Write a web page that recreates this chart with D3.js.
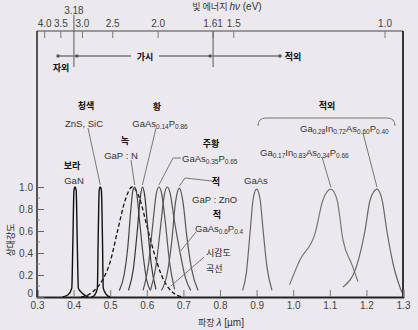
<!DOCTYPE html>
<html>
<head>
<meta charset="utf-8">
<script src="https://cdn.jsdelivr.net/npm/d3@7"></script>
<style>
  html, body { margin: 0; padding: 0; background: #ebe8ee; }
  svg { display: block; }
  .lat { font-family: "Liberation Sans", Arial, sans-serif; }
  .kr { font-family: "Noto Sans CJK KR", sans-serif; }
</style>
</head>
<body>
<div id="chart"></div>
<script>
// Wavelength axis (bottom) and intensity axis (left)
const wavelengthTicks = [0.3, 0.4, 0.5, 0.6, 0.7, 0.8, 0.9, 1.0, 1.1, 1.2, 1.3];
const intensityTicks = [0, 0.2, 0.4, 0.6, 0.8, 1.0];
const intensityTickLabels = ["0", "0.2", "0.4", "0.6", "0.8", "1.0"];
// Photon energy axis (top), eV
const energyTicks = [4.0, 3.5, 3.0, 2.5, 2.0, 1.61, 1.5, 1.0];
const energyTickLabels = ["4.0", "3.5", "3.0", "2.5", "2.0", "1.61", "1.5", "1.0"];
const boundaryEnergies = [3.18, 1.61];
const regionNames = ["자외", "가시", "적외"];

// Emission spectra: [wavelength µm, relative intensity]
const ganSpectrum = [[0.37,0],[0.385,0.02],[0.395,0.08],[0.398,0.5],[0.401,0.97],[0.404,1.0],[0.407,0.97],[0.41,0.5],[0.413,0.08],[0.425,0.03],[0.44,0]];
const znsSicSpectrum = [[0.449,0],[0.458,0.02],[0.465,0.08],[0.467,0.5],[0.47,0.97],[0.473,1.0],[0.476,0.97],[0.479,0.5],[0.481,0.08],[0.49,0.02],[0.5,0]];
const gapNSpectrum = [[0.525,0.06],[0.538,0.2],[0.548,0.45],[0.556,0.78],[0.562,0.97],[0.567,1.0],[0.572,0.95],[0.58,0.7],[0.59,0.38],[0.6,0.15],[0.61,0.06]];
const gaAs14Spectrum = [[0.55,0.06],[0.563,0.25],[0.574,0.6],[0.582,0.9],[0.588,1.0],[0.594,0.93],[0.602,0.65],[0.612,0.3],[0.625,0.07]];
const gaAs35Spectrum = [[0.59,0.06],[0.604,0.28],[0.616,0.65],[0.626,0.94],[0.633,1.0],[0.64,0.95],[0.65,0.7],[0.662,0.32],[0.676,0.07]];
const gaAs60Spectrum = [[0.61,0.06],[0.625,0.28],[0.638,0.65],[0.648,0.93],[0.656,1.0],[0.664,0.94],[0.675,0.7],[0.69,0.42],[0.705,0.18],[0.72,0.06]];
const gapZnoSpectrum = [[0.64,0.06],[0.655,0.2],[0.668,0.5],[0.678,0.85],[0.689,0.99],[0.699,0.86],[0.709,0.56],[0.722,0.26],[0.74,0.06]];
const gaAsSpectrum = [[0.862,0.06],[0.872,0.22],[0.882,0.58],[0.891,0.9],[0.9,0.98],[0.909,0.9],[0.918,0.6],[0.928,0.28],[0.942,0.06]];
const quat1Spectrum = [[0.99,0.11],[1.019,0.34],[1.06,0.58],[1.081,0.88],[1.103,0.98],[1.12,0.88],[1.136,0.52],[1.161,0.29],[1.177,0.14]];
const quat2Spectrum = [[1.136,0.09],[1.174,0.29],[1.196,0.6],[1.21,0.88],[1.229,0.98],[1.243,0.88],[1.256,0.6],[1.273,0.3],[1.297,0.04]];
// Relative eye sensitivity (luminosity) curve
const eyeSensitivity = [[0.42,0],[0.44,0.02],[0.46,0.07],[0.48,0.16],[0.5,0.32],[0.52,0.6],[0.54,0.87],[0.56,1.0],[0.58,0.9],[0.6,0.65],[0.62,0.4],[0.64,0.2],[0.66,0.08],[0.68,0.02],[0.7,0]];

const W = 418, H = 330;
const svg = d3.select("#chart").append("svg").attr("width", W).attr("height", H);
svg.append("rect").attr("width", W).attr("height", H).attr("fill", "#ebe8ee");

const L = 37, R = 403, T = 31, B = 297;
const x = d3.scaleLinear().domain([0.3, 1.3]).range([L, R]);
const xTop = d3.scaleLinear().domain([0.3, 1.3]).range([L + 4, R + 4]);
const y = d3.scaleLinear().domain([0, 1]).range([B, 187]);
const evToUm = e => 1.24 / e;

const ink = "#333";

// Plot frame
svg.append("line").attr("x1", L).attr("x2", R).attr("y1", T).attr("y2", T).attr("stroke", "#444").attr("stroke-width", 1.2);
svg.append("line").attr("x1", R).attr("x2", R).attr("y1", T).attr("y2", B).attr("stroke", "#222").attr("stroke-width", 1.8);

// Bottom axis
const xAxis = d3.axisBottom(x).tickValues(wavelengthTicks).tickSize(-7).tickPadding(5).tickFormat(d3.format(".1f"));
const gx = svg.append("g").attr("transform", `translate(0,${B})`).call(xAxis);
gx.select(".domain").attr("stroke", "#222").attr("stroke-width", 1.8);
gx.selectAll(".tick line").attr("stroke", "#777");
gx.selectAll("text").attr("class", "lat").attr("font-size", 10).attr("fill", "#444");

// Left axis
const yAxis = d3.axisLeft(y).tickValues(intensityTicks).tickSize(-7).tickPadding(4)
  .tickFormat((d, i) => intensityTickLabels[i]);
const gy = svg.append("g").attr("transform", `translate(${L},0)`).call(yAxis);
gy.select(".domain").attr("stroke", "#222").attr("stroke-width", 1.5).attr("d", `M0,${T}V${B}`);
gy.selectAll(".tick line").attr("stroke", "#666");
gy.selectAll("text").attr("class", "lat").attr("font-size", 10).attr("fill", "#444");
// the zero label sits a little above the baseline so it clears the 0.3 label
gy.selectAll(".tick").filter(d => d === 0).select("text").attr("dy", "-0.05em");
// minor intensity ticks
svg.append("g").selectAll("line").data(d3.range(0.1, 1.0, 0.2)).join("line")
  .attr("x1", L).attr("x2", L + 3).attr("y1", d => y(d)).attr("y2", d => y(d))
  .attr("stroke", "#888");

// Top energy axis
const gTop = svg.append("g");
gTop.selectAll("line").data(energyTicks).join("line")
  .attr("x1", d => xTop(evToUm(d))).attr("x2", d => xTop(evToUm(d)))
  .attr("y1", T).attr("y2", T + 7).attr("stroke", "#777");
gTop.selectAll("text").data(energyTicks).join("text")
  .attr("class", "lat").attr("x", d => xTop(evToUm(d))).attr("y", 27)
  .attr("text-anchor", "middle").attr("font-size", 10).attr("fill", "#444")
  .text((d, i) => energyTickLabels[i]);

// UV / visible / IR boundaries
const [uvEdge, irEdge] = boundaryEnergies.map(e => xTop(evToUm(e)));
svg.append("line").attr("x1", uvEdge).attr("x2", uvEdge).attr("y1", 15).attr("y2", 67).attr("stroke", "#666").attr("stroke-width", 1.1);
svg.append("line").attr("x1", irEdge).attr("x2", irEdge).attr("y1", T).attr("y2", 67).attr("stroke", "#666").attr("stroke-width", 1.1);
svg.append("text").attr("class", "lat").attr("x", uvEdge).attr("y", 14).attr("text-anchor", "middle")
  .attr("font-size", 10).attr("fill", "#444").text(boundaryEnergies[0].toFixed(2));

// Energy axis title
const et = svg.append("text").attr("x", 227).attr("y", 10).attr("text-anchor", "middle").attr("font-size", 9).attr("fill", ink);
et.append("tspan").attr("class", "kr").text("빛 에너지 ");
et.append("tspan").attr("class", "lat").attr("font-style", "italic").attr("font-size", 10).text("hν");
et.append("tspan").attr("class", "lat").attr("font-size", 10).text(" (eV)");

// Spectral region bar
const bandY = 56, bandL = 58, bandR = 280;
svg.append("line").attr("x1", bandL).attr("x2", 131).attr("y1", bandY).attr("y2", bandY).attr("stroke", "#777").attr("stroke-width", 1.5);
svg.append("line").attr("x1", 159).attr("x2", bandR).attr("y1", bandY).attr("y2", bandY).attr("stroke", "#777").attr("stroke-width", 1.5);
svg.append("g").selectAll("circle").data([bandL, uvEdge + 3, irEdge - 3, bandR]).join("circle")
  .attr("cx", d => d).attr("cy", bandY).attr("r", 1.7).attr("fill", "#555");
const krBold = (tx, ty, s, anchor = "middle") => svg.append("text").attr("class", "kr")
  .attr("x", tx).attr("y", ty).attr("text-anchor", anchor).attr("font-size", 9).attr("font-weight", "bold")
  .attr("fill", "#111").text(s);
krBold(61, 71, regionNames[0]);
krBold(145, 60, regionNames[1]);
krBold(293, 60, regionNames[2]);

// Spectra
const line = d3.line().x(d => x(d[0])).y(d => y(d[1])).curve(d3.curveMonotoneX);
const drawCurve = (data, color, width, dash) => svg.append("path").datum(data).attr("d", line)
  .attr("fill", "none").attr("stroke", color).attr("stroke-width", width).attr("stroke-dasharray", dash || null);

drawCurve(eyeSensitivity, "#111", 1.3, "4,2.5");
drawCurve(ganSpectrum, "#111", 1.4);
drawCurve(znsSicSpectrum, "#111", 1.4);
drawCurve(gapNSpectrum, "#444", 1.2);
drawCurve(gaAs14Spectrum, "#333", 1.2);
drawCurve(gaAs35Spectrum, "#555", 1.2);
drawCurve(gaAs60Spectrum, "#555", 1.2);
drawCurve(gapZnoSpectrum, "#555", 1.2);
drawCurve(gaAsSpectrum, "#666", 1.2);
drawCurve(quat1Spectrum, "#777", 1.2);
drawCurve(quat2Spectrum, "#666", 1.2);

// Leader lines
const peakOf = data => data.reduce((a, b) => (b[1] > a[1] ? b : a));
const leader = pts => svg.append("path").attr("d", d3.line()(pts)).attr("fill", "none").attr("stroke", "#777").attr("stroke-width", 1);
const tip = (data, dy = 2) => { const p = peakOf(data); return [x(p[0]), y(p[1]) - dy]; };

leader([[88, 128], tip(znsSicSpectrum)]);
leader([[131, 160], tip(gapNSpectrum)]);
leader([[156, 128], tip(gaAs14Spectrum)]);
leader([[181, 158], [173, 158], tip(gaAs35Spectrum)]);
leader([[212, 181], [185, 178], tip(gapZnoSpectrum)]);
leader([[196, 232], [x(0.69) + 1, y(0.42)]]);
leader([[204, 257], [x(0.66) + 2, y(0.08) - 2]]);
leader([[322, 157], tip(quat1Spectrum)]);
leader([[363, 133], tip(quat2Spectrum)]);

// IR bracket
svg.append("path").attr("d", "M258,126 Q258,118 266,118 L387,118 Q395,118 395,126")
  .attr("fill", "none").attr("stroke", "#777").attr("stroke-width", 1);

// Material labels with subscripts written as _{...}
const chem = (tx, ty, s, anchor = "middle") => {
  const t = svg.append("text").attr("class", "lat").attr("x", tx).attr("y", ty)
    .attr("text-anchor", anchor).attr("font-size", 9.5).attr("fill", ink);
  const parts = s.split(/_\{([^}]*)\}/);
  parts.forEach((p, i) => {
    if (!p) return;
    if (i % 2 === 1) t.append("tspan").attr("font-size", 6.5).attr("baseline-shift", "-25%").text(p);
    else t.append("tspan").text(p);
  });
  return t;
};

krBold(86, 109, "청색");
chem(84, 127, "ZnS, SiC");
krBold(72, 169, "보라");
chem(74, 184, "GaN");
krBold(125, 144, "녹");
chem(121, 159, "GaP : N");
krBold(157, 110, "황");
chem(160, 127, "GaAs_{0.14}P_{0.86}");
krBold(211, 147, "주황");
chem(182, 162, "GaAs_{0.35}P_{0.65}", "start");
krBold(216, 185, "적");
chem(192, 203, "GaP : ZnO", "start");
krBold(217, 218, "적");
chem(195, 232, "GaAs_{0.6}P_{0.4}", "start");
svg.append("text").attr("class", "kr").attr("x", 206).attr("y", 256).attr("font-size", 9).attr("fill", "#222").text("시감도");
svg.append("text").attr("class", "kr").attr("x", 206).attr("y", 272).attr("font-size", 9).attr("fill", "#222").text("곡선");
chem(256, 184, "GaAs");
krBold(327, 109, "적외");
chem(300, 132, "Ga_{0.28}In_{0.72}As_{0.60}P_{0.40}", "start");
chem(260, 156, "Ga_{0.17}In_{0.83}As_{0.34}P_{0.66}", "start");

// Axis titles
const xt = svg.append("text").attr("x", 221).attr("y", 326).attr("text-anchor", "middle").attr("font-size", 9).attr("fill", ink);
xt.append("tspan").attr("class", "kr").text("파장 ");
xt.append("tspan").attr("class", "lat").attr("font-style", "italic").attr("font-size", 10).text("λ");
xt.append("tspan").attr("class", "lat").attr("font-size", 10).text(" [µm]");

svg.append("text").attr("class", "kr").attr("transform", "translate(14,240) rotate(-90)")
  .attr("text-anchor", "middle").attr("font-size", 9).attr("fill", "#222").text("상대강도");
</script>
</body>
</html>
